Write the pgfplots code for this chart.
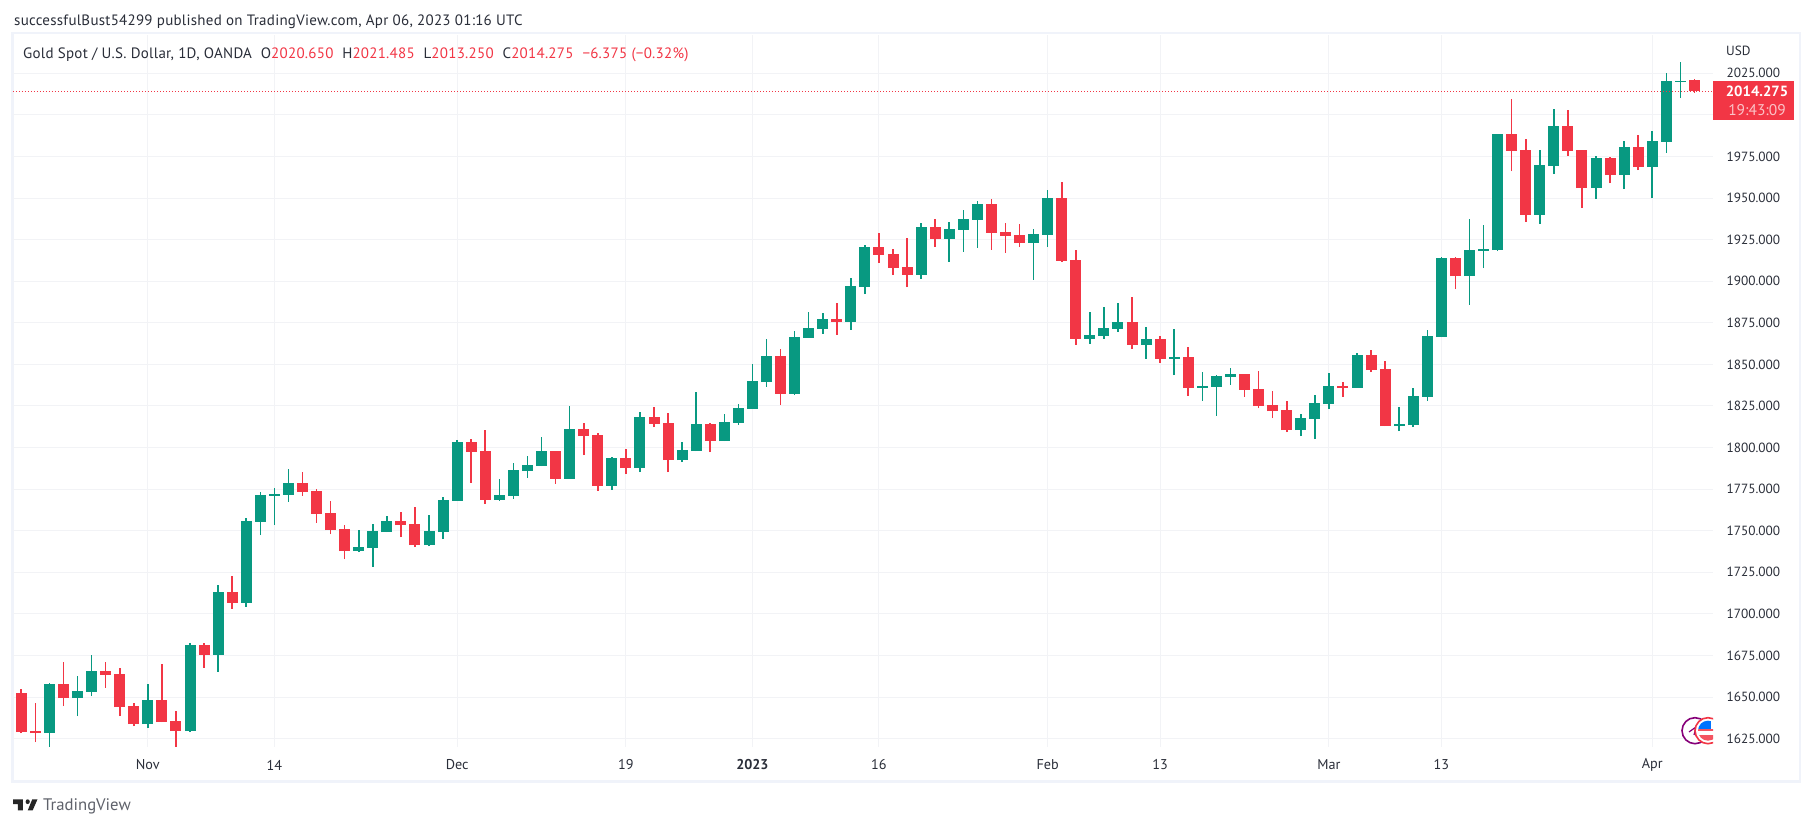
\documentclass[border=0pt]{standalone}
\usepackage{fontspec}
\setmainfont{PT Sans}
\newfontfamily\hdr[LetterSpace=1.7]{PT Sans}
\usepackage{pgfplots}
\usepackage{pgfplotstable}
\pgfplotsset{compat=1.18}
\definecolor{tvgreen}{HTML}{089981}
\definecolor{tvred}{HTML}{F23645}
\definecolor{tvgrid}{HTML}{F2F3F6}
\definecolor{tvborder}{HTML}{F0F3FA}
\definecolor{tvtext}{HTML}{2A2E39}
\pgfplotstableread{
i top bot hi lo
2 1657.9 1628.4 1658.5 1620.2
4 1653.6 1649.4 1662.7 1638.6
5 1665.7 1653.1 1675.3 1650.6
9 1648.2 1633.8 1657.9 1631.4
12 1681.3 1629.6 1682.5 1629.0
14 1713.2 1675.3 1717.4 1665.1
16 1755.9 1706.6 1757.7 1704.2
17 1771.5 1755.3 1773.3 1747.4
18 1772.1 1770.9 1775.7 1753.4
19 1778.7 1771.5 1787.1 1767.3
24 1740.2 1737.8 1750.4 1737.2
25 1749.8 1739.6 1754.0 1728.2
26 1755.9 1749.2 1758.9 1749.2
29 1749.8 1741.4 1759.5 1740.8
30 1768.5 1749.2 1770.3 1745.0
31 1803.3 1767.9 1804.5 1767.9
34 1771.5 1768.5 1781.1 1767.9
35 1786.5 1770.9 1790.7 1769.1
36 1789.5 1785.9 1794.9 1781.7
37 1797.9 1788.9 1806.3 1788.9
39 1811.1 1781.1 1825.0 1781.1
42 1793.7 1776.9 1794.3 1774.5
44 1818.4 1787.7 1821.4 1785.3
47 1798.5 1792.5 1803.3 1791.3
48 1814.2 1797.9 1833.4 1797.9
50 1815.4 1803.9 1820.2 1803.9
51 1823.8 1814.8 1826.2 1813.6
52 1840.0 1823.2 1850.2 1823.2
53 1855.0 1839.4 1865.2 1836.4
55 1866.5 1832.2 1870.1 1831.6
56 1871.9 1865.9 1881.5 1865.9
57 1877.3 1871.3 1880.9 1868.3
59 1897.1 1875.5 1902.0 1870.7
60 1920.6 1896.5 1921.8 1892.3
64 1932.6 1903.8 1935.0 1901.4
66 1931.4 1925.4 1935.6 1911.6
67 1937.4 1930.8 1942.8 1917.6
68 1946.4 1936.8 1948.2 1920.0
72 1928.4 1923.0 1931.4 1900.8
73 1950.1 1927.8 1954.9 1920.6
76 1867.7 1865.3 1881.5 1862.3
77 1871.9 1867.1 1884.5 1865.3
78 1875.5 1871.3 1886.9 1869.5
80 1865.3 1861.7 1872.5 1853.3
82 1854.5 1853.3 1871.3 1843.6
84 1837.0 1835.8 1845.4 1828.0
85 1843.0 1836.4 1843.6 1819.0
86 1844.2 1842.4 1847.8 1837.6
91 1817.7 1810.5 1820.1 1806.9
92 1826.7 1817.1 1831.6 1805.1
93 1837.0 1826.1 1844.8 1823.1
95 1855.6 1835.8 1856.8 1835.8
98 1814.1 1812.9 1824.3 1809.9
99 1830.9 1813.5 1835.8 1812.3
100 1867.0 1830.4 1870.6 1828.0
101 1913.9 1866.4 1914.5 1866.4
103 1918.7 1903.1 1937.4 1885.7
104 1919.3 1918.1 1933.8 1907.9
105 1988.5 1918.7 1988.5 1918.1
108 1969.9 1939.8 1978.9 1934.4
109 1993.3 1969.2 2003.5 1964.4
112 1974.1 1956.0 1975.3 1949.4
114 1980.7 1963.8 1984.3 1955.4
116 1984.3 1968.6 1990.3 1950.0
117 2020.4 1983.7 2025.2 1977.1
118 2020.4 2019.8 2031.8 2010.1
}\greentable
\pgfplotstableread{
i top bot hi lo
0 1652.5 1629.0 1654.9 1628.4
1 1629.6 1628.4 1646.4 1623.0
3 1657.9 1649.4 1671.1 1644.6
6 1665.7 1663.3 1671.1 1655.5
7 1663.9 1644.0 1667.5 1638.6
8 1644.6 1633.8 1646.4 1632.6
10 1648.2 1635.0 1669.9 1635.0
11 1635.6 1629.6 1641.6 1620.2
13 1681.3 1675.3 1682.5 1667.5
15 1713.2 1706.6 1722.8 1703.0
20 1778.7 1773.3 1785.3 1770.9
21 1773.9 1760.1 1775.1 1754.7
22 1760.7 1750.4 1767.9 1748.0
23 1751.0 1737.8 1753.4 1733.0
27 1755.9 1753.4 1761.3 1746.2
28 1754.0 1741.4 1764.3 1740.2
32 1803.3 1797.3 1805.1 1778.7
33 1797.9 1768.5 1810.5 1766.1
38 1797.9 1781.1 1797.9 1778.1
40 1811.1 1806.9 1814.8 1795.5
41 1807.5 1776.9 1808.7 1773.9
43 1793.7 1787.7 1799.1 1784.1
45 1818.4 1814.2 1824.4 1812.3
46 1814.8 1792.5 1820.8 1785.3
49 1814.2 1803.9 1814.8 1797.3
54 1855.0 1832.2 1859.2 1825.6
58 1877.3 1875.5 1886.9 1867.7
61 1920.6 1915.8 1929.0 1911.0
62 1916.4 1908.0 1919.4 1903.8
63 1908.6 1903.8 1926.0 1896.5
65 1932.6 1925.4 1937.4 1920.6
69 1946.4 1929.0 1949.4 1918.8
70 1929.6 1927.2 1935.0 1917.0
71 1927.8 1923.0 1934.4 1920.6
74 1950.1 1912.2 1959.7 1911.6
75 1912.8 1865.3 1918.8 1861.7
79 1875.5 1861.7 1890.5 1859.3
81 1865.3 1853.3 1867.1 1850.9
83 1854.5 1835.8 1860.5 1831.0
87 1844.2 1834.6 1844.4 1830.4
88 1835.2 1824.9 1846.0 1823.7
89 1825.5 1821.9 1834.0 1817.7
90 1822.5 1810.5 1828.0 1809.3
94 1837.0 1835.8 1839.4 1830.4
96 1855.6 1846.6 1858.6 1845.4
97 1847.2 1812.9 1852.0 1812.9
102 1913.9 1903.1 1914.5 1895.3
106 1988.5 1978.3 2009.5 1966.2
107 1978.9 1939.8 1985.5 1935.6
110 1993.3 1978.3 2002.9 1975.3
111 1978.9 1956.0 1978.9 1944.0
113 1974.1 1963.8 1974.7 1959.0
115 1980.7 1968.6 1987.9 1966.8
119 2020.65 2014.275 2021.485 2013.25
}\redtable
\newcommand{\bodyf}{\fontsize{13.3}{16}\selectfont}
\begin{document}
\begin{tikzpicture}[x=1pt,y=1pt]
\path[use as bounding box] (0,0) rectangle (1813,826);
\fill[white] (0,0) rectangle (1813,826);
\draw[tvborder,line width=2.4pt] (12.5,44.5) rectangle (1800,792.7);
\begin{axis}[
  at={(13pt,79pt)},anchor=south west,
  scale only axis,width=1700pt,height=712pt,
  xmin=-0.59,xmax=120.32,ymin=1620,ymax=2048,
  axis line style={draw=none},
  tick style={draw=none},
  major grid style={draw=tvgrid,line width=1pt},
  grid=major,
  xtick={9,18,31,43,52,61,73,81,93,101,116},
  xticklabels={Nov,14,Dec,19,\textbf{2023},16,Feb,13,Mar,13,Apr},
  ytick={1625,1650,1675,1700,1725,1750,1775,1800,1825,1850,1875,1900,1925,1950,1975,2000,2025},
  yticklabel pos=right,
  scaled y ticks=false,
  tick label style={font=\bodyf,text=tvtext},
  xticklabel style={anchor=center,yshift=-18pt,font=\fontsize{14.2}{16}\selectfont},
  yticklabel style={anchor=west,xshift=10pt,
    /pgf/number format/fixed,/pgf/number format/fixed zerofill,
    /pgf/number format/precision=3,/pgf/number format/1000 sep={},
    /pgf/number format/assume math mode=true},
  clip=true,
]
\addplot[draw=none,mark=none,forget plot,error bars/.cd,y dir=plus,y explicit,error mark=none,
  error bar style={tvgreen,line width=1.6pt}]
  table[x=i,y=lo,y error plus expr=\thisrow{hi}-\thisrow{lo}]{\greentable};
\addplot[draw=none,mark=none,forget plot,error bars/.cd,y dir=plus,y explicit,error mark=none,
  error bar style={tvgreen,line width=11pt}]
  table[x=i,y=bot,y error plus expr=\thisrow{top}-\thisrow{bot}]{\greentable};
\addplot[draw=none,mark=none,forget plot,error bars/.cd,y dir=plus,y explicit,error mark=none,
  error bar style={tvred,line width=1.6pt}]
  table[x=i,y=lo,y error plus expr=\thisrow{hi}-\thisrow{lo}]{\redtable};
\addplot[draw=none,mark=none,forget plot,error bars/.cd,y dir=plus,y explicit,error mark=none,
  error bar style={tvred,line width=11pt}]
  table[x=i,y=bot,y error plus expr=\thisrow{top}-\thisrow{bot}]{\redtable};
\addplot[tvred,line width=0.9pt,dash pattern=on 1pt off 2pt,forget plot] coordinates {(-0.59,2014.275)(120.32,2014.275)};
\end{axis}
% event icons, clipped at the edge of the plot
\begin{scope}
\clip (1660,79) rectangle (1713,130);
\draw[fill=white,draw=purple!70!blue,line width=1.6pt] (1695,95.3) circle (13);
\draw[purple!70!blue,line width=1.2pt] (1689,94) -- (1696,99) -- (1694,91);
\draw[fill=white,draw=tvred,line width=1.6pt] (1708,95.3) circle (13);
\begin{scope}
\clip (1708,95.3) circle (10);
\fill[white] (1696,84) rectangle (1720,106);
\fill[tvred!85!white] (1696,84) rectangle (1720,91);
\fill[tvred!85!white] (1696,95) rectangle (1720,97);
\fill[blue!55!cyan] (1696,97) rectangle (1711,106);
\end{scope}
\end{scope}
% price label
\fill[tvred] (1713,706) rectangle (1794,745);
\node[anchor=center,text=white,font=\fontsize{14.8}{16}\selectfont\bfseries,inner sep=0pt] at (1757,734.3) {2014.275};
\node[anchor=center,text=white!70!tvred,font=\fontsize{15.5}{16}\selectfont,inner sep=0pt] at (1757,716) {19:43:09};
\node[anchor=west,text=tvtext,font=\bodyf,inner sep=0pt] at (1726,775) {USD};
% headers
\node[anchor=west,text=tvtext,font=\hdr\fontsize{15}{18}\selectfont,inner sep=0pt] at (14,804.5) {successfulBust54299 published on TradingView.com, Apr 06, 2023 01:16 UTC};
\node[anchor=west,text=tvtext,font=\hdr\fontsize{15}{18}\selectfont,inner sep=0pt] at (23,771) {Gold Spot / U.S. Dollar, 1D, OANDA\hspace{9pt}O\textcolor{tvred}{2020.650}\hspace{9pt}H\textcolor{tvred}{2021.485}\hspace{9pt}L\textcolor{tvred}{2013.250}\hspace{9pt}C\textcolor{tvred}{2014.275}\hspace{9pt}\textcolor{tvred}{−6.375 (−0.32\%)}};
% TradingView logo
\begin{scope}[shift={(13,15.5)},xscale=0.7,yscale=0.8,fill=black!85]
\fill (0,14) -- (14,14) -- (14,0) -- (7,0) -- (7,8) -- (0,8) -- cycle;
\fill (28,0) -- (21,0) -- (27.5,14) -- (35,14) -- cycle;
\fill (21,11) ellipse (3 and 3);
\end{scope}
\node[anchor=west,text=tvtext!75,font=\fontsize{16.7}{18}\selectfont,inner sep=0pt] at (43,20) {TradingView};
\end{tikzpicture}
\end{document}
